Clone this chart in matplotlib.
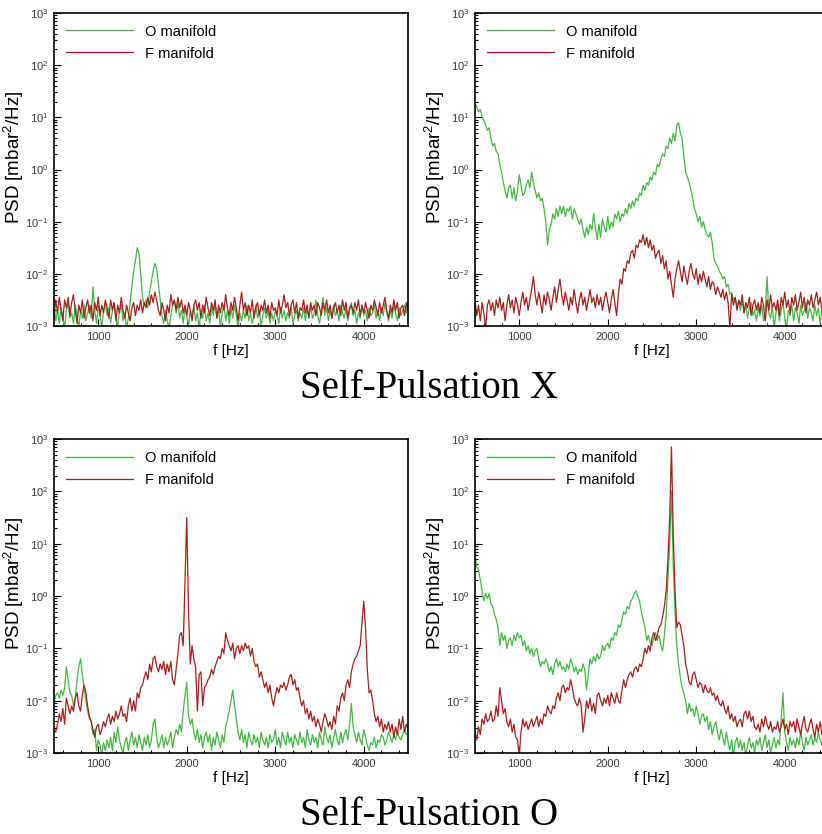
import numpy as np
import matplotlib
matplotlib.use("Agg")
import matplotlib.pyplot as plt
from matplotlib.ticker import LogLocator, MultipleLocator, NullFormatter

plt.rcParams['font.family'] = ['Liberation Sans', 'DejaVu Sans']
plt.rcParams['mathtext.fontset'] = 'custom'
plt.rcParams['mathtext.rm'] = 'Liberation Sans'
plt.rcParams['mathtext.it'] = 'Liberation Sans:italic'
plt.rcParams['mathtext.bf'] = 'Liberation Sans:bold'
plt.rcParams['axes.unicode_minus'] = False

# ---------------- data (log10 of PSD, 20 Hz grid from 500 to 4500 Hz) ----------------
freq_start, freq_stop, freq_count = 500, 4500, 201
series_names = ["O manifold", "F manifold"]
titles = ["Self-Pulsation X", "Self-Pulsation O"]
x_ticks = [1000, 2000, 3000, 4000]

# Panel 1 (top-left)
p1_o = [
    -2.6, -2.9, -2.7, -2.95, -2.65, -2.8, -3.05, -2.7, -2.55, -2.85,
    -2.75, -2.95, -2.6, -2.8, -3.05, -2.7, -2.85, -2.6, -2.9, -2.75,
    -2.6, -2.85, -2.25, -2.7, -2.95, -2.6, -2.8, -3.05, -2.7, -2.55,
    -2.8, -2.65, -2.95, -2.7, -2.55, -2.85, -3.0, -2.7, -2.6, -2.9,
    -2.75, -3.05, -2.85, -2.55, -2.25, -1.95, -1.75, -1.5, -1.6, -2.0,
    -2.45, -2.6, -2.5, -2.65, -2.35, -2.15, -1.95, -1.8, -1.9, -2.2,
    -2.5, -2.8, -2.95, -2.7, -2.9, -3.05, -2.8, -2.6, -2.5, -2.75,
    -2.55, -2.85, -2.7, -2.95, -2.65, -2.8, -3.0, -2.7, -2.85, -2.6,
    -2.9, -2.75, -3.05, -2.7, -2.85, -2.6, -2.9, -2.75, -2.95, -2.65,
    -2.8, -2.55, -2.85, -2.7, -3.0, -2.75, -2.6, -2.9, -2.7, -2.95,
    -2.65, -2.85, -2.6, -2.8, -3.05, -2.75, -2.9, -2.7, -2.85, -2.6,
    -2.9, -2.75, -2.95, -2.8, -2.6, -2.85, -2.7, -3.0, -2.8, -2.65,
    -2.85, -2.7, -2.95, -2.75, -2.9, -2.7, -2.8, -2.95, -2.65, -2.85,
    -2.7, -2.9, -2.75, -2.85, -2.65, -2.95, -2.8, -2.7, -2.9, -2.75,
    -2.85, -2.65, -2.9, -2.7, -2.8, -2.6, -2.85, -2.75, -2.5, -2.8,
    -2.95, -2.7, -2.45, -2.8, -2.65, -2.9, -2.7, -2.85, -2.6, -2.8,
    -2.7, -2.9, -2.6, -2.75, -2.85, -2.65, -2.9, -2.7, -2.55, -2.8,
    -2.7, -2.95, -2.75, -2.85, -2.6, -2.8, -2.7, -2.9, -2.65, -2.8,
    -2.75, -2.6, -2.85, -2.7, -2.9, -2.65, -2.8, -2.55, -2.75, -2.9,
    -2.7, -2.85, -2.6, -2.75, -2.9, -2.65, -2.8, -2.7, -2.6, -2.75,
    -2.55,
]
p1_f = [
    -2.8, -2.5, -2.75, -2.45, -2.7, -2.9, -2.5, -2.65, -2.45, -2.8,
    -2.55, -2.4, -2.7, -2.95, -2.6, -2.75, -2.5, -2.85, -2.65, -2.5,
    -2.75, -2.6, -2.9, -2.55, -2.7, -2.45, -2.8, -2.6, -2.75, -2.5,
    -2.65, -2.85, -2.5, -2.7, -2.55, -2.9, -2.6, -2.75, -2.45, -2.7,
    -2.85, -2.6, -2.75, -2.9, -2.65, -2.55, -2.8, -2.6, -2.7, -2.5,
    -2.75, -2.55, -2.65, -2.45, -2.6, -2.4, -2.55, -2.35, -2.5, -2.7,
    -2.8, -2.55, -2.7, -2.9, -2.6, -2.75, -2.4, -2.6, -2.5, -2.7,
    -2.45, -2.65, -2.5, -2.75, -2.6, -2.8, -2.55, -2.7, -2.9, -2.6,
    -2.5, -2.7, -2.55, -2.85, -2.6, -2.75, -2.45, -2.65, -2.8, -2.55,
    -2.7, -2.5, -2.85, -2.6, -2.75, -2.55, -2.7, -2.4, -2.65, -2.8,
    -2.55, -2.7, -2.45, -2.65, -2.9, -2.6, -2.35, -2.7, -2.55, -2.8,
    -2.6, -2.75, -2.5, -2.85, -2.65, -2.55, -2.8, -2.6, -2.7, -2.5,
    -2.75, -2.6, -2.85, -2.55, -2.7, -2.65, -2.8, -2.5, -2.75, -2.6,
    -2.4, -2.65, -2.55, -2.8, -2.6, -2.5, -2.75, -2.55, -2.85, -2.65,
    -2.7, -2.5, -2.75, -2.6, -2.85, -2.55, -2.7, -2.6, -2.8, -2.55,
    -2.65, -2.8, -2.55, -2.7, -2.5, -2.75, -2.6, -2.85, -2.65, -2.55,
    -2.75, -2.6, -2.8, -2.5, -2.7, -2.55, -2.85, -2.65, -2.6, -2.75,
    -2.55, -2.7, -2.5, -2.8, -2.6, -2.75, -2.55, -2.7, -2.85, -2.6,
    -2.7, -2.5, -2.65, -2.8, -2.55, -2.75, -2.6, -2.45, -2.7, -2.85,
    -2.6, -2.75, -2.5, -2.7, -2.55, -2.85, -2.65, -2.6, -2.8, -2.55,
    -2.7,
]

# Panel 2 (top-right)
p2_o = [
    1.25, 1.2, 1.1, 1.15, 1.0, 0.95, 0.85, 0.75, 0.8, 0.6,
    0.45, 0.5, 0.35, 0.3, 0.1, -0.05, -0.25, -0.4, -0.55, -0.35,
    -0.3, -0.55, -0.35, -0.6, -0.4, -0.1, -0.3, -0.5, -0.45, -0.3,
    -0.2, -0.35, -0.05, -0.25, -0.4, -0.55, -0.45, -0.6, -0.55, -0.75,
    -1.0, -1.45, -1.15, -1.05, -0.85, -0.95, -0.75, -0.9, -0.7, -0.85,
    -0.7, -0.9, -0.75, -0.8, -0.7, -0.95, -0.75, -0.85, -0.95, -1.05,
    -0.95, -1.15, -1.3, -1.1, -1.25, -1.05, -1.15, -0.85, -1.1, -1.35,
    -1.05, -1.3, -0.95, -1.1, -1.2, -0.9, -1.15, -1.0, -1.1, -0.85,
    -0.95, -0.8, -1.0, -0.85, -0.9, -0.75, -0.85, -0.65, -0.75, -0.6,
    -0.7, -0.55, -0.6, -0.45, -0.5, -0.3, -0.4, -0.25, -0.3, -0.15,
    -0.2, -0.05, -0.1, 0.1, 0.05, 0.2, 0.3, 0.25, 0.45, 0.4,
    0.6, 0.5, 0.7, 0.55, 0.85, 0.9, 0.7, 0.6, 0.25, -0.05,
    -0.15, -0.25, -0.4, -0.55, -0.75, -0.85, -1.0, -0.9, -1.1, -1.0,
    -1.15, -1.25, -1.3, -1.2, -1.4, -1.7, -1.8, -1.85, -1.95, -2.0,
    -2.1, -2.05, -2.25, -2.2, -2.4, -2.35, -2.5, -2.45, -2.6, -2.55,
    -2.7, -2.5, -2.75, -2.6, -2.85, -2.65, -2.55, -2.8, -2.7, -2.9,
    -2.65, -2.8, -2.6, -2.9, -2.7, -2.05, -2.75, -2.85, -2.6, -3.05,
    -2.75, -2.6, -2.9, -2.7, -2.55, -2.85, -3.05, -2.7, -2.8, -2.6,
    -2.9, -2.65, -2.75, -2.95, -2.6, -2.8, -2.7, -2.55, -2.85, -2.65,
    -2.75, -2.9, -2.6, -2.8, -2.65, -2.95, -2.7, -2.55, -2.8, -2.65,
    -2.7,
]
p2_f = [
    -2.5, -2.8, -2.6, -2.9, -2.55, -2.75, -3.05, -2.6, -2.5, -2.7,
    -2.55, -2.8, -2.5, -2.65, -2.45, -2.7, -2.55, -2.9, -2.6, -2.4,
    -2.65, -2.5, -2.75, -2.45, -2.6, -2.8, -2.55, -2.35, -2.6, -2.45,
    -2.7, -2.5, -2.3, -2.05, -2.4, -2.6, -2.35, -2.55, -2.75, -2.4,
    -2.6, -2.35, -2.5, -2.7, -2.45, -2.25, -2.55, -2.3, -2.1, -2.4,
    -2.6, -2.35, -2.5, -2.7, -2.45, -2.6, -2.3, -2.55, -2.75, -2.5,
    -2.35, -2.6, -2.45, -2.7, -2.5, -2.3, -2.55, -2.45, -2.65, -2.4,
    -2.6, -2.45, -2.7, -2.5, -2.35, -2.55, -2.75, -2.5, -2.3, -2.55,
    -2.8, -2.4, -2.1, -2.2, -1.9, -1.95, -1.75, -1.8, -1.6, -1.55,
    -1.7, -1.45, -1.5, -1.35, -1.4, -1.25, -1.45, -1.3, -1.5, -1.35,
    -1.55, -1.45, -1.7, -1.6, -1.55, -1.8, -1.65, -1.9, -1.75, -2.1,
    -1.95, -2.2, -2.45, -2.1, -1.9, -1.75, -1.95, -2.15, -1.85, -2.05,
    -2.2, -1.95, -1.8, -2.0, -2.1, -1.9, -2.2, -2.0, -2.15, -1.95,
    -2.1, -2.25, -2.05, -2.3, -2.15, -2.2, -2.4, -2.25, -2.35, -2.45,
    -2.3, -2.5, -2.35, -2.55, -3.05, -2.4, -2.6, -2.45, -2.7, -2.5,
    -2.6, -2.4, -2.75, -2.55, -2.65, -2.45, -2.8, -2.6, -2.5, -2.7,
    -2.55, -2.75, -2.45, -2.6, -2.9, -2.5, -2.7, -2.4, -2.65, -2.55,
    -2.7, -2.5, -2.8, -2.45, -2.6, -2.35, -2.65, -2.5, -2.75, -2.45,
    -2.6, -2.4, -2.7, -2.55, -2.35, -2.65, -2.45, -2.75, -2.5, -2.6,
    -2.4, -2.65, -2.5, -2.35, -2.6, -2.45, -2.7, -2.5, -2.4, -2.6,
    -2.5,
]

# Panel 3 (bottom-left)
p3_o = [
    -2.05, -1.9, -1.85, -1.95, -1.8, -1.9, -1.75, -1.35, -1.6, -1.85,
    -1.9, -2.1, -1.95, -1.6, -1.35, -1.2, -1.5, -1.75, -2.0, -2.2,
    -2.35, -2.4, -2.65, -2.55, -2.95, -2.75, -2.85, -3.05, -2.8, -2.95,
    -2.75, -2.9, -2.7, -2.95, -2.6, -2.8, -2.5, -2.75, -2.9, -3.0,
    -2.8, -2.7, -2.95, -2.75, -2.6, -2.85, -2.7, -2.9, -2.65, -2.8,
    -2.95, -2.7, -2.85, -2.65, -2.9, -2.75, -2.45, -2.35, -2.7, -2.9,
    -2.8, -2.65, -2.9, -2.7, -2.85, -2.75, -2.6, -2.9, -2.7, -2.55,
    -2.65, -2.45, -2.6, -2.2, -1.9, -1.65, -2.3, -2.45, -2.35, -2.6,
    -2.75, -2.55, -2.8, -2.65, -2.9, -2.7, -2.6, -2.8, -2.65, -2.95,
    -2.7, -2.85, -2.6, -2.75, -2.9, -2.65, -2.8, -2.5, -2.35, -2.2,
    -2.0, -1.8, -2.1, -2.35, -2.6, -2.75, -2.55, -2.8, -2.65, -2.9,
    -2.6, -2.75, -2.85, -2.65, -2.8, -2.7, -2.9, -2.6, -2.75, -2.85,
    -2.7, -2.9, -2.65, -2.8, -2.75, -2.55, -2.85, -2.7, -2.9, -2.6,
    -2.75, -2.85, -2.6, -2.8, -2.7, -2.9, -2.65, -2.75, -2.85, -2.6,
    -2.8, -2.7, -2.9, -2.55, -2.75, -2.85, -2.65, -2.8, -2.7, -2.9,
    -2.6, -2.75, -2.85, -2.5, -2.7, -2.8, -2.65, -2.9, -2.7, -2.55,
    -2.75, -2.85, -2.6, -2.8, -2.65, -2.55, -2.75, -2.45, -2.05, -2.5,
    -2.65, -2.8, -2.6, -2.75, -2.85, -2.55, -2.7, -2.85, -2.95, -2.8,
    -2.85, -2.7, -2.9, -2.75, -2.8, -2.65, -2.7, -2.85, -2.75, -2.6,
    -2.7, -2.8, -2.65, -2.75, -2.6, -2.7, -2.75, -2.65, -2.55, -2.65,
    -2.6,
]
p3_f = [
    -2.55, -2.6, -2.45, -2.25, -2.4, -2.15, -2.45, -1.95, -2.1, -2.25,
    -2.1, -2.2, -1.95, -1.85, -2.1, -2.2, -1.9, -1.7, -1.85, -2.1,
    -2.3, -2.4, -2.55, -2.7, -2.5, -2.45, -2.65, -2.55, -2.4, -2.5,
    -2.35, -2.25, -2.45, -2.3, -2.4, -2.2, -2.35, -2.25, -2.1, -2.3,
    -2.25, -2.4, -2.1, -1.95, -2.2, -2.0, -2.2, -1.85, -1.95, -1.75,
    -1.7, -1.55, -1.45, -1.6, -1.3, -1.45, -1.2, -1.15, -1.35, -1.45,
    -1.3, -1.4, -1.25, -1.5, -1.3, -1.45, -1.25, -1.6, -1.7, -1.4,
    -1.1, -0.75, -0.7, -0.95, 0.3, 1.5, -0.3, -1.3, -0.95, -1.2,
    -1.35, -2.2, -1.5, -1.45, -2.1, -1.75, -1.7, -1.6, -1.55, -1.4,
    -1.5, -1.35, -1.25, -1.15, -1.2, -1.0, -1.1, -0.7, -0.85, -0.95,
    -1.05, -0.9, -1.2, -1.0, -0.95, -1.1, -0.95, -1.05, -0.9, -1.0,
    -0.95, -1.15, -1.0, -1.25, -1.35, -1.3, -1.55, -1.45, -1.6, -1.75,
    -1.65, -1.85, -1.7, -1.95, -2.1, -1.9, -1.75, -1.85, -1.7, -1.75,
    -1.65, -1.8, -1.7, -1.55, -1.5, -1.7, -1.6, -1.8, -1.75, -1.95,
    -2.1, -2.0, -2.25, -2.15, -2.35, -2.2, -2.4, -2.3, -2.5, -2.35,
    -2.45, -2.6, -2.4, -2.25, -2.35, -2.5, -2.4, -2.55, -2.3, -2.45,
    -2.1, -2.2, -1.95, -1.85, -2.0, -1.7, -1.6, -1.75, -1.45, -1.3,
    -1.2, -1.15, -1.05, -0.95, -0.5, -0.1, -0.6, -1.4, -1.85, -1.8,
    -2.0, -2.25, -2.4, -2.3, -2.5, -2.35, -2.6, -2.45, -2.55, -2.4,
    -2.6, -2.45, -2.7, -2.5, -2.65, -2.35, -2.55, -2.3, -2.6, -2.45,
    -2.55,
]

# Panel 4 (bottom-right)
p4_o = [
    0.8, 0.55, 0.5, 0.3, 0.1, -0.1, 0.05, -0.05, 0.05, -0.15,
    -0.2, -0.35, -0.45, -0.6, -0.95, -0.7, -0.85, -0.75, -1.0, -0.85,
    -0.8, -0.95, -0.75, -0.85, -0.7, -0.8, -0.75, -0.95, -0.85, -1.05,
    -0.95, -1.1, -1.0, -1.15, -1.05, -1.0, -1.2, -1.35, -1.25, -1.3,
    -1.2, -1.3, -1.45, -1.35, -1.5, -1.3, -1.2, -1.35, -1.25, -1.4,
    -1.35, -1.45, -1.3, -1.4, -1.2, -1.3, -1.45, -1.35, -1.5, -1.4,
    -1.45, -1.3, -1.4, -1.8, -1.5, -1.2, -1.3, -1.15, -1.25, -1.1,
    -1.2, -1.15, -0.95, -1.05, -0.95, -0.9, -1.0, -0.8, -0.85, -0.7,
    -0.75, -0.55, -0.6, -0.45, -0.3, -0.35, -0.2, -0.25, -0.1, -0.05,
    0.05, 0.1, 0.0, -0.1, -0.3, -0.45, -0.6, -0.85, -0.75, -0.9,
    -0.95, -0.8, -0.7, -0.85, -0.75, -0.95, -1.05, -0.75, -0.35, 0.3,
    1.0, 2.0, 0.6, -0.3, -0.95, -1.3, -1.55, -1.75, -1.85, -2.0,
    -2.25, -2.05, -2.2, -2.15, -2.3, -2.1, -2.25, -2.45, -2.3, -2.25,
    -2.4, -2.3, -2.55, -2.4, -2.65, -2.5, -2.4, -2.6, -2.75, -2.55,
    -2.7, -2.85, -2.6, -2.8, -2.95, -2.75, -3.05, -2.8, -2.7, -2.9,
    -2.75, -2.95, -2.8, -3.05, -2.85, -2.7, -2.9, -2.8, -3.0, -2.75,
    -2.85, -2.7, -2.95, -2.8, -2.65, -2.9, -2.75, -3.0, -2.85, -2.7,
    -2.9, -2.75, -2.85, -2.35, -1.85, -2.6, -2.8, -2.95, -2.7, -2.85,
    -2.75, -2.9, -2.7, -2.85, -2.6, -2.8, -2.95, -2.7, -2.85, -2.75,
    -2.65, -2.85, -2.7, -2.8, -2.6, -2.75, -2.85, -2.65, -2.75, -2.7,
    -2.65,
]
p4_f = [
    -2.6, -2.75, -2.5, -2.65, -2.35, -2.45, -2.25, -2.4, -2.35, -2.2,
    -2.4, -2.35, -2.1, -2.3, -1.75, -2.0, -2.25, -2.15, -2.4, -2.5,
    -2.35, -2.6, -2.45, -2.7, -2.75, -3.05, -2.6, -2.35, -2.5, -2.4,
    -2.55, -2.45, -2.35, -2.5, -2.4, -2.3, -2.5, -2.35, -2.45, -2.25,
    -2.3, -2.1, -2.2, -2.25, -2.1, -2.15, -1.95, -1.85, -2.0, -1.75,
    -1.7, -1.85, -1.75, -1.8, -1.6, -1.75, -1.95, -2.05, -2.1, -1.95,
    -2.1, -2.6, -2.35, -2.0, -2.15, -1.95, -2.2, -2.05, -2.25, -1.9,
    -1.85, -2.0, -2.1, -1.95, -2.05, -1.9, -2.1, -1.85, -1.95, -2.05,
    -1.85, -2.0, -2.05, -1.8, -1.6, -1.75, -1.6, -1.5, -1.45, -1.55,
    -1.4, -1.35, -1.45, -1.3, -1.35, -1.2, -1.0, -1.1, -0.95, -1.05,
    -0.8, -0.7, -0.85, -0.75, -0.6, -0.55, -0.4, -0.2, 0.1, 0.7,
    1.5, 2.85, 1.2, 0.1, -0.6, -0.5, -0.55, -0.75, -0.95, -1.3,
    -1.45, -1.65, -1.7, -1.5, -1.45, -1.6, -1.75, -1.65, -1.7, -1.85,
    -1.7, -1.8, -1.85, -1.75, -1.9, -1.85, -2.0, -1.9, -2.05, -2.1,
    -2.0, -2.15, -2.25, -2.1, -2.35, -2.25, -2.4, -2.3, -2.5, -2.4,
    -2.35, -2.5, -2.25, -2.2, -2.35, -2.2, -2.4, -2.3, -2.5, -2.55,
    -2.45, -2.6, -2.35, -2.5, -2.3, -2.45, -2.55, -2.4, -2.6, -2.5,
    -2.55, -2.4, -2.6, -2.5, -2.35, -2.55, -2.45, -2.65, -2.4, -2.5,
    -2.4, -2.6, -2.35, -2.5, -2.65, -2.45, -2.3, -2.55, -2.6, -2.45,
    -2.35, -2.55, -2.7, -2.45, -2.6, -2.4, -2.65, -2.5, -2.75, -2.6,
    -2.55,
]

# ---------------- figure ----------------
W, H = 822, 834
fig = plt.figure(figsize=(W / 100, H / 100), dpi=100)

green = '#44b844'
red = '#a3201e'

panels = [
    (p1_o, p1_f, (54, 13, 408, 326)),
    (p2_o, p2_f, (475, 13, 829, 326)),
    (p3_o, p3_f, (54, 439, 408, 753)),
    (p4_o, p4_f, (475, 439, 829, 753)),
]

freq = np.linspace(freq_start, freq_stop, freq_count)

for o_vals, f_vals, (x0, y0, x1, y1) in panels:
    ax = fig.add_axes([x0 / W, 1 - y1 / H, (x1 - x0) / W, (y1 - y0) / H])
    ax.plot(freq, 10 ** np.array(o_vals), color=green, lw=0.9, label=series_names[0])
    ax.plot(freq, 10 ** np.array(f_vals), color=red, lw=0.9, label=series_names[1])
    ax.set_yscale('log')
    ax.set_xlim(500, 4500)
    ax.set_ylim(1e-3, 1e3)
    ax.set_xticks(x_ticks)
    ax.xaxis.set_minor_locator(MultipleLocator(200))
    ax.yaxis.set_major_locator(LogLocator(base=10, numticks=10))
    ax.yaxis.set_minor_locator(LogLocator(base=10, subs=np.arange(2, 10), numticks=20))
    ax.yaxis.set_minor_formatter(NullFormatter())
    ax.tick_params(which='both', direction='in', top=False, right=False,
                   labelsize=8, labelcolor='#3a3a3a', width=0.8)
    ax.tick_params(which='major', length=5)
    ax.tick_params(which='minor', length=2.5)
    ax.tick_params(axis='y', pad=4)
    ax.tick_params(axis='x', pad=4)
    for s in ax.spines.values():
        s.set_linewidth(1.2)
    ax.set_xlabel('f [Hz]', fontsize=11, labelpad=2)
    ax.set_ylabel('PSD [mbar$^2$/Hz]', fontsize=13.5)
    ax.yaxis.set_label_coords(-0.078, 0.54)
    ax.legend(loc='upper left', bbox_to_anchor=(0.035, 0.963), frameon=False,
              fontsize=10.5, handlelength=4.6, handletextpad=0.8,
              labelspacing=0.55, borderaxespad=0, borderpad=0)

fig.text(429 / W, 1 - 398 / H, titles[0], ha='center', va='baseline',
         fontsize=28, family=['Liberation Serif', 'DejaVu Serif'])
fig.text(429 / W, 1 - 825 / H, titles[1], ha='center', va='baseline',
         fontsize=28, family=['Liberation Serif', 'DejaVu Serif'])

fig.savefig('out.png', dpi=100)
